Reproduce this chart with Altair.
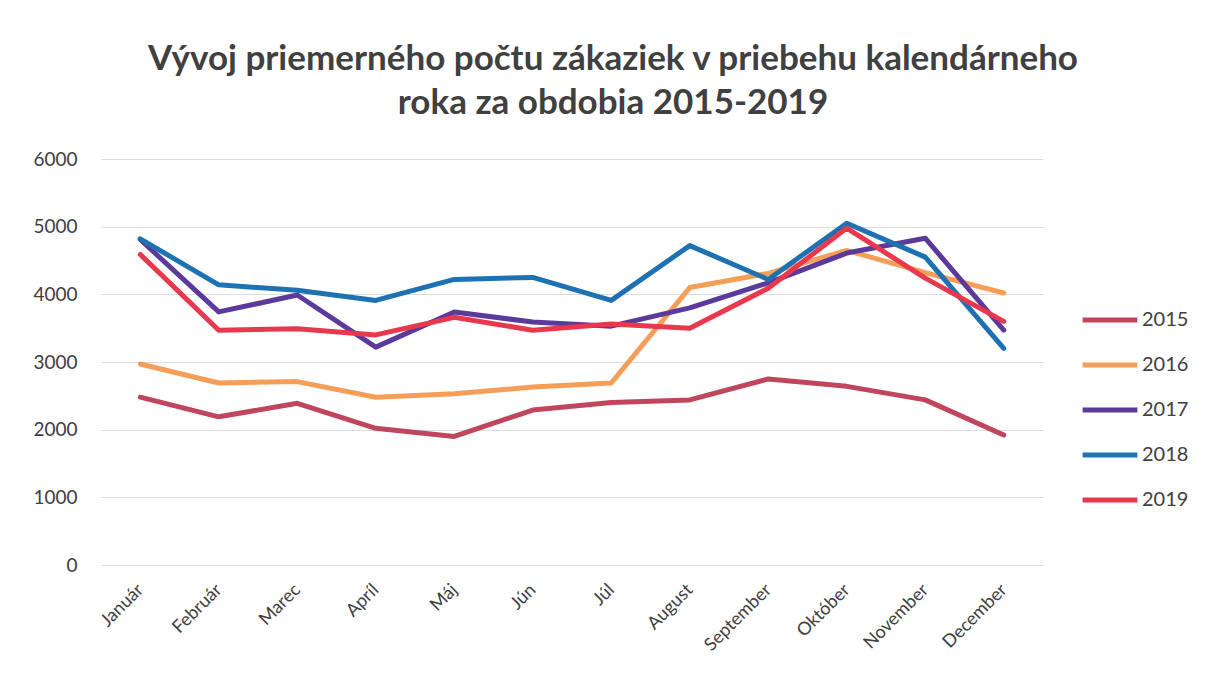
import altair as alt
import pandas as pd

months = ["Január", "Február", "Marec", "Apríl", "Máj", "Jún", "Júl",
          "August", "September", "Október", "November", "December"]
years = ["2015", "2016", "2017", "2018", "2019"]

v2015 = [2480, 2190, 2390, 2020, 1900, 2290, 2400, 2440, 2750, 2640, 2440, 1920]
v2016 = [2970, 2690, 2710, 2480, 2530, 2630, 2690, 4100, 4310, 4650, 4320, 4020]
v2017 = [4810, 3740, 3990, 3220, 3740, 3590, 3530, 3800, 4170, 4610, 4830, 3470]
v2018 = [4820, 4140, 4060, 3910, 4220, 4250, 3910, 4720, 4220, 5050, 4550, 3200]
v2019 = [4590, 3470, 3490, 3400, 3660, 3470, 3560, 3500, 4090, 4980, 4240, 3600]

colors = ["#C0465E", "#F59E58", "#5C3A9C", "#1F72B2", "#E8384E"]

rows = []
for y, vals in zip(years, [v2015, v2016, v2017, v2018, v2019]):
    for i, (m, v) in enumerate(zip(months, vals)):
        rows.append({"mesiac": m, "rok": y, "hodnota": v, "idx": i})
df = pd.DataFrame(rows)

FONT = "Lato"

chart = alt.Chart(df).mark_line(strokeWidth=5, strokeCap="round", strokeJoin="round").encode(
    x=alt.X("mesiac:N", sort=months, title=None,
            scale=alt.Scale(type="point", padding=0.5),
            axis=alt.Axis(labelAngle=-45, labelAlign="right", labelBaseline="middle",
                          labelFontSize=18, labelColor="#404040", labelFont=FONT,
                          domain=False, ticks=False, grid=False, labelPadding=22)),
    y=alt.Y("hodnota:Q", title=None,
            scale=alt.Scale(domain=[0, 6000], nice=False),
            axis=alt.Axis(values=[0, 1000, 2000, 3000, 4000, 5000, 6000], format="d",
                          labelFontSize=19, labelColor="#404040", labelFont=FONT,
                          domain=False, ticks=False, gridColor="#DCDCDC", gridWidth=1,
                          labelPadding=24)),
    color=alt.Color("rok:N", scale=alt.Scale(domain=years, range=colors),
                    legend=alt.Legend(title=None, orient="none", legendX=979, legendY=151,
                                      symbolType="stroke", symbolSize=3000,
                                      symbolStrokeWidth=5, clipHeight=20, rowPadding=25,
                                      labelFontSize=20, labelFont=FONT, labelColor="#404040",
                                      labelOffset=2, padding=0)),
    detail="rok:N",
    order="idx:Q",
).properties(
    width=942, height=406,
    background="white",
    title=alt.Title(["Vývoj priemerného počtu zákaziek v priebehu kalendárneho",
                     "roka za obdobia 2015-2019"],
                    font=FONT, fontSize=35, fontWeight="bold", color="#404040",
                    anchor="middle", dx=41, offset=29, lineHeight=44),
    autosize=alt.AutoSizeParams(type="none"),
    padding={"left": 93, "top": 151, "right": 165, "bottom": 111},
).configure_view(stroke="transparent", strokeWidth=0)

chart.save("out.html", embed_options={"renderer": "svg", "actions": False})
